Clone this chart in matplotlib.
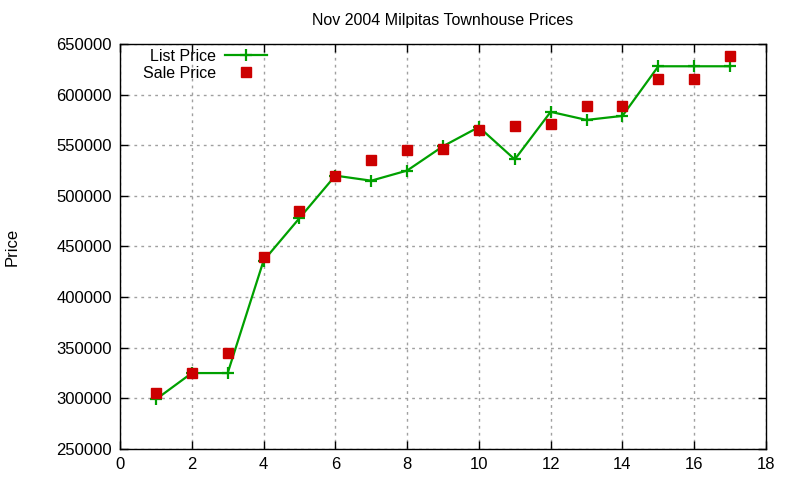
import matplotlib
matplotlib.use("Agg")
import matplotlib.pyplot as plt
from matplotlib.ticker import MultipleLocator, FormatStrFormatter

plt.rcParams["font.family"] = ["Liberation Sans", "DejaVu Sans"]

# 값은 원본 그림에서 읽은 추정치
house = [1, 2, 3, 4, 5, 6, 7, 8, 9, 10, 11, 12, 13, 14, 15, 16, 17]
list_price = [299000, 325000, 325000, 436000, 478000, 520000, 515000, 525000,
              549000, 568000, 536000, 583000, 575000, 579000, 628000, 628000, 628000]
sale_price = [305000, 325000, 345000, 440000, 485000, 520000, 535000, 545000,
              546000, 565000, 569000, 571000, 589000, 589000, 615000, 615000, 638000]

GREEN = "#00a000"
RED = "#cc0000"

fig = plt.figure(figsize=(8, 4.8), dpi=100, facecolor="white")
ax = fig.add_axes([120 / 800, 31 / 480, 646 / 800, 405 / 480])

ax.plot(house, list_price, color=GREEN, lw=1.6, marker="+", ms=9, mew=1.6,
        label="List Price", zorder=3)
ax.plot(house, sale_price, ls="none", marker="s", ms=6.5, color=RED,
        label="Sale Price", zorder=4)

ax.set_xlim(0, 18)
ax.set_ylim(250000, 650000)
ax.xaxis.set_major_locator(MultipleLocator(2))
ax.yaxis.set_major_locator(MultipleLocator(50000))
ax.yaxis.set_major_formatter(FormatStrFormatter("%d"))
ax.tick_params(direction="in", length=6, width=1, top=True, right=True,
               labelsize=12, pad=6)
ax.grid(True, color="#a0a0a0", ls=(0, (2, 3)), lw=1)
for sp in ax.spines.values():
    sp.set_linewidth(1)

fig.text(443 / 800, 1 - 21 / 480, "Nov 2004 Milpitas Townhouse Prices",
         ha="center", va="center", fontsize=11.5)
fig.text(12 / 800, 1 - 247 / 480, "Price", rotation=90, ha="center",
         va="center", fontsize=12)

ax.legend(loc="upper right", bbox_to_anchor=(267 / 800, 1 - 49 / 480),
          bbox_transform=fig.transFigure, markerfirst=False, frameon=False,
          fontsize=11.5, handlelength=2.6, handletextpad=0.6,
          labelspacing=0.1, borderpad=0, borderaxespad=0)

fig.savefig("out.png", dpi=100)
